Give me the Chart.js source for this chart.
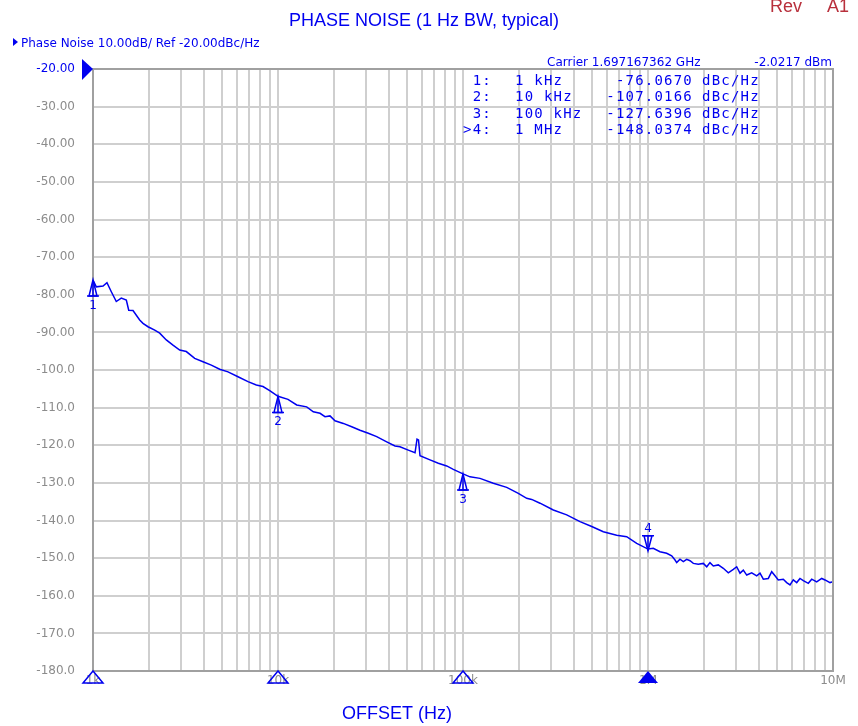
<!DOCTYPE html>
<html>
<head>
<meta charset="utf-8">
<script src="https://cdn.jsdelivr.net/npm/chart.js@4.4.1/dist/chart.umd.min.js"></script>
<style>
  html, body { margin: 0; padding: 0; background: #fff; }
  #wrap { width: 858px; height: 726px; }
</style>
</head>
<body>
<div id="wrap"><canvas id="pnChart" width="858" height="726"></canvas></div>
<script>
// trace (offset Hz / dBc/Hz)
const offsetHz = [
  1000, 1042, 1133, 1190, 1256, 1336, 1422, 1514, 1560, 1645,
  1788, 1863, 1983, 2156, 2294, 2490, 2706, 2942, 3194, 3546,
  3932, 4360, 4840, 5367, 6079, 6884, 7633, 8297, 9019, 10000,
  11325, 12620, 14290, 15520, 16870, 17950, 19100, 20330, 22540, 25030,
  27750, 30770, 34160, 38690, 42900, 45650, 50610, 55040, 56420, 57480,
  58560, 66310, 73540, 81640, 88630, 100000, 109100, 123600, 145800, 172300,
  199100, 221000, 235100, 260800, 307700, 363600, 429000, 496300, 573400, 677300,
  767000, 868800, 1000000, 1068000, 1161000, 1262000, 1343000, 1400000, 1429000, 1489000,
  1552000, 1619000, 1687000, 1758000, 1870000, 1991000, 2077000, 2163000, 2254000, 2399000,
  2553000, 2717000, 2892000, 3016000, 3143000, 3275000, 3417000, 3636000, 3869000, 4031000,
  4201000, 4470000, 4663000, 4859000, 5061000, 5386000, 5620000, 5856000, 6101000, 6366000,
  6631000, 6909000, 7354000, 7673000, 8164000, 8688000, 9053000, 9634000, 10000000
];
const noiseDbc = [
  -76.1, -77.9, -77.7, -76.8, -79.2, -81.8, -80.9, -81.4, -84.1, -84.2,
  -86.7, -87.6, -88.5, -89.4, -90.2, -92.0, -93.4, -94.7, -95.1, -96.9,
  -97.8, -98.7, -99.8, -100.5, -101.8, -103.1, -104.0, -104.4, -105.5, -107.0,
  -107.8, -109.3, -109.8, -111.1, -111.5, -112.4, -112.2, -113.5, -114.2, -115.1,
  -116.0, -116.8, -117.7, -119.1, -120.2, -120.4, -121.3, -122.0, -118.4, -118.6,
  -122.8, -123.9, -124.8, -125.5, -126.4, -127.6, -128.4, -128.8, -130.1, -131.2,
  -132.8, -134.1, -134.4, -135.4, -137.2, -138.5, -140.3, -141.6, -143.0, -143.9,
  -144.3, -146.1, -147.6, -147.4, -148.3, -148.7, -149.4, -150.5, -151.2, -150.3,
  -150.9, -150.3, -150.7, -151.4, -151.6, -151.4, -152.3, -151.2, -152.1, -151.8,
  -152.7, -153.9, -153.0, -152.3, -154.0, -153.2, -154.5, -153.9, -154.7, -154.0,
  -155.6, -155.4, -153.6, -154.7, -155.8, -155.6, -156.5, -157.1, -155.8, -156.5,
  -155.4, -156.0, -156.7, -155.6, -156.3, -155.4, -155.8, -156.5, -156.3
];

// markers
const markerNames = ['1', '2', '3', '4'];
const markerHz = [1e3, 1e4, 1e5, 1e6];
const markerFreqText = ['1 kHz', '10 kHz', '100 kHz', '1 MHz'];
const markerDbc = [-76.0670, -107.0166, -127.6396, -148.0374];
const activeMarker = 3;

// axes
const decadeTicks = [1e3, 1e4, 1e5, 1e6, 1e7];
const decadeLabels = ['1k', '10k', '100k', '1M', '10M'];
const yMin = -180, yMax = -20, yStep = 10;
const refLevel = -20;

const blue = '#0000f0';
const gray = '#8c8c8c';

// minor log grid 1..9 per decade
const gridTicks = [];
for (let d = 0; d < decadeTicks.length - 1; d++) {
  for (let m = 1; m < 10; m++) gridTicks.push(decadeTicks[d] * m);
}
gridTicks.push(decadeTicks[decadeTicks.length - 1]);

function tri(ctx, pts, fill) {
  ctx.beginPath();
  ctx.moveTo(pts[0][0], pts[0][1]);
  ctx.lineTo(pts[1][0], pts[1][1]);
  ctx.lineTo(pts[2][0], pts[2][1]);
  ctx.closePath();
  if (fill) ctx.fill(); else ctx.stroke();
}

const overlay = {
  id: 'overlay',
  afterDraw(chart) {
    const { ctx, chartArea: a, scales: { x, y } } = chart;
    ctx.save();

    // frame
    ctx.strokeStyle = '#a0a0a0';
    ctx.lineWidth = 2;
    ctx.strokeRect(a.left, a.top, a.right - a.left, a.bottom - a.top);

    // titles
    ctx.fillStyle = blue;
    ctx.font = '18px "Liberation Sans", Arial, sans-serif';
    ctx.textAlign = 'center';
    ctx.textBaseline = 'alphabetic';
    ctx.fillText('PHASE NOISE (1 Hz BW, typical)', 424, 26);
    ctx.fillText('OFFSET (Hz)', 397, 719);

    ctx.fillStyle = '#b8303c';
    ctx.textAlign = 'left';
    ctx.fillText('Rev', 770, 12);
    ctx.fillText('A1', 827, 12);

    // trace header
    ctx.fillStyle = blue;
    tri(ctx, [[13, 38], [13, 46], [18, 42]], true);
    ctx.font = '12px "DejaVu Sans", sans-serif';
    ctx.fillText('Phase Noise 10.00dB/ Ref -20.00dBc/Hz', 21, 47);
    ctx.fillText('Carrier 1.697167362 GHz', 547, 66);
    ctx.textAlign = 'right';
    ctx.fillText('-2.0217 dBm', 832, 66);

    // marker table
    ctx.font = '14px "DejaVu Sans Mono", monospace';
    ctx.letterSpacing = '1.2px';
    markerNames.forEach((n, i) => {
      const by = 85 + i * 16.4;
      ctx.textAlign = 'right';
      ctx.fillText((i === activeMarker ? '>' : '') + n + ':', 492, by);
      ctx.fillText(markerDbc[i].toFixed(4), 693, by);
      ctx.textAlign = 'left';
      ctx.fillText(markerFreqText[i], 515, by);
      ctx.fillText('dBc/Hz', 702, by);
    });
    ctx.letterSpacing = '0px';

    // reference level arrow
    const ry = y.getPixelForValue(refLevel);
    tri(ctx, [[a.left - 11, ry - 10], [a.left - 11, ry + 11], [a.left, ry]], true);

    // markers on trace and on the frequency axis
    ctx.strokeStyle = blue;
    ctx.lineWidth = 1.5;
    ctx.font = '12px "DejaVu Sans", sans-serif';
    ctx.textAlign = 'center';
    markerHz.forEach((f, i) => {
      const px = x.getPixelForValue(f);
      const py = y.getPixelForValue(markerDbc[i]);
      if (i === activeMarker) {
        const h = 15;
        tri(ctx, [[px, py], [px - 4, py - h], [px + 4, py - h]], false);
        ctx.beginPath();
        ctx.moveTo(px - 6, py - h); ctx.lineTo(px + 6, py - h);
        ctx.moveTo(px, py); ctx.lineTo(px, py - h);
        ctx.stroke();
        ctx.fillText(markerNames[i], px, py - h - 4);
      } else {
        const h = 16;
        tri(ctx, [[px, py], [px - 4, py + h], [px + 4, py + h]], false);
        ctx.beginPath();
        ctx.moveTo(px - 6, py + h); ctx.lineTo(px + 6, py + h);
        ctx.moveTo(px, py); ctx.lineTo(px, py + h);
        ctx.stroke();
        ctx.fillText(markerNames[i], px, py + h + 13);
      }
      tri(ctx, [[px, a.bottom], [px - 10, a.bottom + 12], [px + 10, a.bottom + 12]], i === activeMarker);
    });

    ctx.restore();
  }
};

Chart.defaults.font.family = '"DejaVu Sans", sans-serif';

new Chart(document.getElementById('pnChart'), {
  type: 'line',
  data: {
    datasets: [{
      label: 'Phase Noise',
      data: offsetHz.map((f, i) => ({ x: f, y: noiseDbc[i] })),
      borderColor: blue,
      borderWidth: 1.5,
      pointRadius: 0,
      tension: 0,
      fill: false,
    }]
  },
  options: {
    responsive: false,
    animation: false,
    devicePixelRatio: 1,
    layout: { padding: { left: 0, top: 69, right: 25, bottom: 0 } },
    plugins: {
      legend: { display: false },
      tooltip: { enabled: false },
    },
    scales: {
      x: {
        type: 'logarithmic',
        min: decadeTicks[0],
        max: decadeTicks[decadeTicks.length - 1],
        afterBuildTicks(scale) {
          scale.ticks = gridTicks.map(v => ({ value: v }));
        },
        afterFit(scale) { scale.height = 55; },
        grid: { color: '#cfcfcf', lineWidth: 2, drawTicks: false },
        border: { display: true, color: '#a0a0a0', width: 2 },
        ticks: {
          autoSkip: false,
          maxRotation: 0,
          padding: 3,
          color: gray,
          font: { size: 12 },
          callback(value) {
            const k = decadeTicks.indexOf(value);
            return k >= 0 ? decadeLabels[k] : '';
          }
        }
      },
      y: {
        type: 'linear',
        min: yMin,
        max: yMax,
        afterFit(scale) { scale.width = 93; },
        grid: { color: '#cfcfcf', lineWidth: 2, drawTicks: false },
        border: { display: true, color: '#a0a0a0', width: 2 },
        ticks: {
          stepSize: yStep,
          padding: 18,
          font: { size: 12 },
          color: (c) => c.tick && c.tick.value === refLevel ? blue : gray,
          callback: (v) => v > -100 ? v.toFixed(2) : v.toFixed(1)
        }
      }
    }
  },
  plugins: [overlay]
});
</script>
</body>
</html>
